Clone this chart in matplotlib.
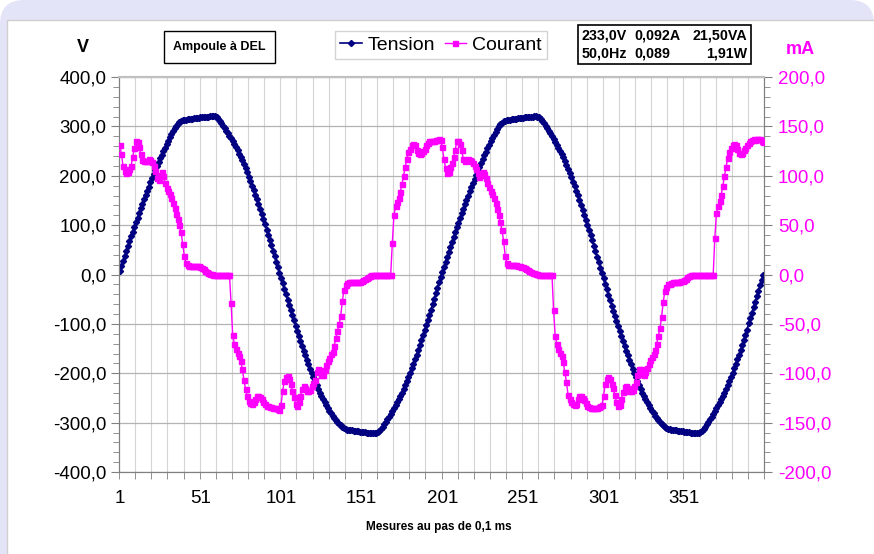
import numpy as np
import matplotlib.pyplot as plt
from matplotlib.patches import FancyBboxPatch, Rectangle
from matplotlib.lines import Line2D
from matplotlib.ticker import FuncFormatter, MultipleLocator

plt.rcParams['font.family'] = ['Liberation Sans', 'DejaVu Sans']

# Mesures (pas de 0,1 ms)
mesures = np.arange(1, 401)

# Tension (V)
tension = [
    7, 17, 27, 37, 47, 57, 67, 77, 87, 96,
    106, 115, 125, 134, 143, 152, 161, 170, 178, 187,
    195, 203, 211, 219, 227, 235, 243, 250, 257, 264,
    271, 278, 284, 290, 296, 301, 305, 308, 310, 312,
    313, 313, 314, 314, 315, 315, 316, 316, 317, 317,
    318, 318, 319, 319, 320, 320, 321, 321, 322, 321,
    318, 315, 311, 306, 301, 296, 291, 286, 281, 276,
    270, 264, 258, 252, 245, 238, 231, 223, 215, 207,
    198, 189, 180, 171, 162, 152, 142, 132, 122, 112,
    102, 91, 81, 70, 59, 48, 37, 26, 15, 4,
    -7, -18, -29, -40, -51, -62, -72, -83, -93, -104,
    -114, -124, -134, -144, -154, -164, -173, -182, -191, -200,
    -208, -216, -224, -232, -239, -246, -253, -259, -265, -271,
    -276, -281, -286, -290, -294, -298, -302, -305, -308, -311,
    -313, -314, -314, -315, -315, -316, -316, -317, -317, -318,
    -318, -319, -319, -320, -320, -321, -321, -322, -322, -321,
    -319, -316, -312, -308, -303, -298, -293, -288, -283, -277,
    -271, -265, -259, -253, -246, -239, -232, -224, -216, -208,
    -199, -190, -181, -172, -163, -153, -143, -133, -123, -113,
    -103, -92, -82, -71, -60, -49, -38, -27, -16, -5,
    6, 16, 26, 36, 46, 56, 66, 76, 86, 96,
    105, 115, 124, 133, 142, 151, 160, 169, 178, 186,
    194, 202, 210, 218, 226, 234, 242, 249, 256, 263,
    270, 277, 283, 289, 295, 300, 304, 307, 310, 311,
    312, 313, 313, 314, 314, 315, 315, 316, 316, 317,
    317, 318, 318, 319, 319, 320, 320, 321, 321, 320,
    318, 315, 311, 306, 301, 296, 291, 286, 281, 275,
    269, 263, 257, 251, 244, 237, 230, 222, 214, 206,
    197, 188, 179, 170, 161, 151, 141, 131, 121, 111,
    101, 90, 80, 69, 58, 47, 36, 25, 14, 3,
    -8, -19, -30, -41, -52, -63, -73, -84, -94, -105,
    -115, -125, -135, -145, -155, -164, -173, -182, -191, -200,
    -208, -216, -224, -232, -239, -246, -253, -259, -265, -271,
    -276, -281, -286, -290, -294, -298, -302, -305, -308, -310,
    -312, -313, -314, -314, -315, -315, -316, -316, -317, -317,
    -318, -318, -319, -319, -320, -320, -321, -321, -322, -321,
    -319, -316, -312, -308, -303, -298, -293, -288, -283, -277,
    -271, -265, -259, -253, -246, -239, -232, -224, -216, -208,
    -199, -190, -181, -172, -163, -153, -143, -133, -123, -112,
    -99, -88, -77, -66, -55, -44, -33, -22, -11, -1,
]

# Courant (mA)
courant = [
    131, 122, 110, 105, 103, 104, 107, 110, 119, 128,
    135, 134, 129, 122, 116, 115, 115, 115, 117, 116,
    114, 110, 105, 98, 96, 101, 104, 100, 93, 88,
    85, 82, 77, 72, 67, 61, 56, 50, 43, 31,
    19, 12, 10, 9, 9, 9, 9, 9, 9, 8.5,
    8, 7, 5.5, 4, 3, 2, 1, 0.5, 0, 0,
    0, 0, 0, 0, 0, 0, 0, 0, 0, -29,
    -61, -70, -75, -79, -83, -88, -96, -107, -116, -123,
    -128, -130, -131, -129, -126, -123, -123, -124, -126, -129,
    -131, -133, -133, -134, -134, -135, -135, -135, -136, -137,
    -132, -118, -108, -104, -103, -106, -111, -118, -124, -131,
    -133, -129, -123, -116, -113, -115, -118, -118, -117, -113,
    -110, -107, -99, -96, -97, -102, -102, -97, -92, -88,
    -85, -81, -78, -72, -64, -57, -50, -42, -27, -16,
    -11, -9, -8, -8, -8, -8, -8, -8, -7.5, -7.5,
    -7, -6, -5, -4, -3, -2, -1, -0.5, 0, 0,
    0, 0, 0, 0, 0, 0, 0, 0, 0, 32,
    60, 69, 73, 77, 84, 92, 100, 109, 117, 124,
    127, 131, 132, 131, 126, 123, 122, 123, 125, 127,
    131, 133, 135, 135, 135, 135, 136, 136, 137, 136,
    129, 117, 108, 103, 104, 109, 113, 119, 126, 135,
    135, 132, 126, 117, 115, 116, 117, 116, 115, 113,
    110, 107, 103, 99, 101, 104, 102, 98, 93, 89,
    85, 82, 77, 72, 66, 60, 53, 45, 34, 19,
    12, 10, 10, 10, 10, 9.5, 9.5, 9, 9, 8,
    7.5, 7, 6, 5, 4, 3, 2, 1.5, 1, 0.5,
    0, 0, 0, 0, 0, 0, 0, 0, 0, -36,
    -62, -70, -75, -79, -83, -89, -99, -109, -122, -126,
    -129, -131, -132, -131, -126, -123, -123, -125, -127, -130,
    -133, -134, -135, -135, -135, -135, -135, -134, -133, -132,
    -123, -111, -106, -104, -106, -111, -115, -122, -129, -133,
    -132, -126, -119, -114, -113, -115, -118, -118, -117, -113,
    -109, -102, -96, -96, -101, -102, -99, -95, -91, -87,
    -84, -80, -76, -70, -62, -54, -43, -28, -17, -13,
    -10, -9.5, -8.5, -8, -8, -8, -8, -8, -7, -6.5,
    -5.5, -4.5, -3, -2, -1, -0.5, 0, 0, 0, 0,
    0, 0, 0, 0, 0, 0, 0, 0, 0, 37,
    62, 69, 74, 81, 90, 100, 109, 118, 124, 128,
    131, 132, 131, 127, 123, 122, 123, 126, 128, 131,
    133, 135, 136, 137, 136, 137, 137, 137, 135, 134,
]

x_ticks = [1, 51, 101, 151, 201, 251, 301, 351]
info_col1 = ['233,0V', '50,0Hz']
info_col2 = ['0,092A', '0,089']
info_col3 = ['21,50VA', '1,91W']

navy = '#000080'
magenta = '#FF00FF'
gris = '#808080'

W, H = 874, 554
fig = plt.figure(figsize=(W / 100, H / 100), dpi=100)

# cadre de fond (pixels)
bg = fig.add_axes([0, 0, 1, 1], zorder=-1)
bg.set_xlim(0, W)
bg.set_ylim(H, 0)
bg.axis('off')
bg.add_patch(FancyBboxPatch((0, 0), W, H + 80, boxstyle='round,pad=0,rounding_size=24',
                            fc='#E4E4F8', ec='none'))
bg.add_patch(Rectangle((7, 20), W, H, fc='white', ec='#CFCFCF', lw=1))

# titres et encadres
bg.text(83, 47, 'V', fontsize=13, fontweight='bold', ha='center', va='center')
bg.text(800, 50, 'mA', fontsize=13, fontweight='bold', color=magenta, ha='center', va='center')
bg.add_patch(Rectangle((164, 31), 111, 32, fc='white', ec='black', lw=1))
bg.text(219.5, 47, 'Ampoule à DEL', fontsize=9, fontweight='bold', ha='center', va='center')
bg.add_patch(Rectangle((578, 25), 173, 39, fc='white', ec='black', lw=1.2))
for i, y in enumerate([35, 53]):
    bg.text(582, y, info_col1[i], fontsize=10.3, fontweight='bold', ha='left', va='center')
    bg.text(634, y, info_col2[i], fontsize=10.3, fontweight='bold', ha='left', va='center')
    bg.text(747, y, info_col3[i], fontsize=10.3, fontweight='bold', ha='right', va='center')
bg.text(439, 527, 'Mesures au pas de 0,1 ms', fontsize=8.5, fontweight='bold', ha='center', va='center')

# graphique principal
ax = fig.add_axes([119 / W, 1 - 472 / H, 645 / W, 395 / H])
ax.plot(mesures, tension, color=navy, lw=1.2, marker='D', ms=3.1, zorder=3)
ax.set_xlim(0.5, 400.5)
ax.set_ylim(-400, 400)

ax.set_xticks(x_ticks)
ax.set_xticklabels([str(t) for t in x_ticks])
ax.set_xticks(np.arange(0.5, 401, 10), minor=True)
ax.set_yticks(np.arange(-400, 401, 100))
ax.yaxis.set_minor_locator(MultipleLocator(20))
fmt = FuncFormatter(lambda v, p: f'{v:.1f}'.replace('.', ','))
ax.yaxis.set_major_formatter(fmt)

ax.grid(which='minor', axis='x', color='#D4D4D4', lw=0.8)
ax.grid(which='major', axis='y', color='#B3B3B3', lw=0.9)
ax.set_axisbelow(True)

ax.tick_params(axis='x', which='major', length=0, labelsize=13.5, pad=13)
ax.tick_params(axis='x', which='minor', length=5, color=gris)
ax.tick_params(axis='y', which='major', length=6, color=gris, labelsize=13.5, pad=3)
ax.tick_params(axis='y', which='minor', length=4, color=gris)

ax2 = ax.twinx()
ax2.plot(mesures, courant, color=magenta, lw=1, marker='s', ms=3.6, zorder=3)
ax2.set_ylim(-200, 200)
ax2.set_yticks(np.arange(-200, 201, 50))
ax2.yaxis.set_minor_locator(MultipleLocator(10))
ax2.yaxis.set_major_formatter(fmt)
ax2.tick_params(axis='y', which='major', length=6, color=gris, labelcolor=magenta,
                labelsize=13.5, pad=4)
ax2.tick_params(axis='y', which='minor', length=4, color=gris)

for a in (ax, ax2):
    for s in ('left', 'right', 'bottom'):
        a.spines[s].set_color(gris)
    a.spines['top'].set_color('#C0C0C0')
    a.spines['top'].set_linewidth(1.5)

# legende
handles = [Line2D([], [], color=navy, lw=1.2, marker='D', ms=3.1),
           Line2D([], [], color=magenta, lw=1, marker='s', ms=3.6)]
fig.legend(handles, ['Tension', 'Courant'], loc='center', bbox_to_anchor=(441 / W, 1 - 45 / H),
           ncol=2, frameon=True, fancybox=False, edgecolor='#C8C8C8', fontsize=14,
           handlelength=1.1, handletextpad=0.3, columnspacing=0.5, borderpad=0.25,
           borderaxespad=0, numpoints=1)

fig.savefig('out.png', dpi=100)
